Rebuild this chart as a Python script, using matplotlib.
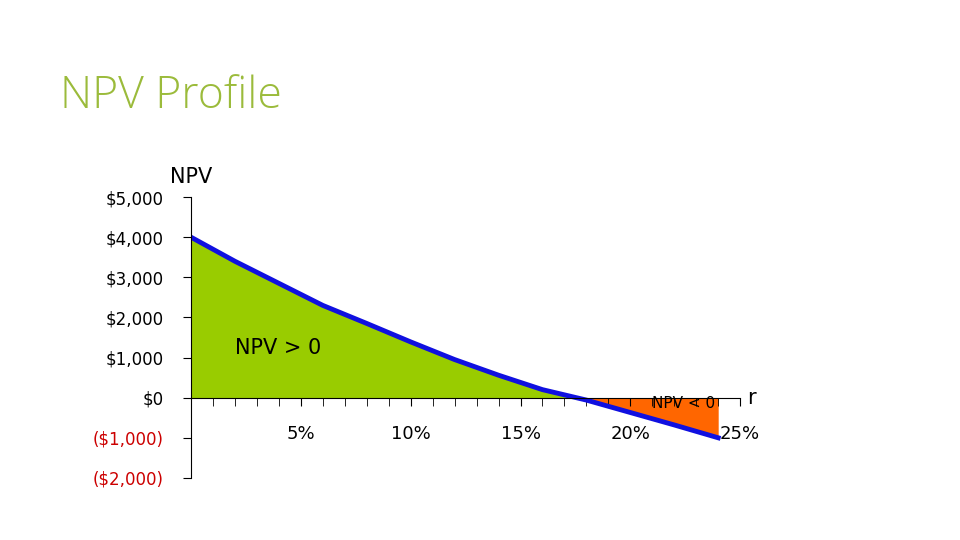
import matplotlib
matplotlib.use("Agg")
import matplotlib.pyplot as plt
import numpy as np
from matplotlib.ticker import FuncFormatter, MultipleLocator

rates = [0, 2, 4, 6, 8, 10, 12, 14, 16, 18, 20, 22, 24]
npv = [4000, 3400, 2850, 2300, 1850, 1390, 950, 560, 200, -60, -370, -680, -1000]
yticks = [-2000, -1000, 0, 1000, 2000, 3000, 4000, 5000]
xticks = [5, 10, 15, 20, 25]

fig = plt.figure(figsize=(9.6, 5.4), dpi=100)
fig.text(0.062, 0.80, "NPV Profile", fontsize=32, color="#9bbb3b", fontfamily="Open Sans", fontweight="light")
ax = fig.add_axes([0.199, 0.115, 0.572, 0.52])
r = np.array(rates, float); v = np.array(npv, float)
ax.fill_between(r, v, 0, where=v >= 0, interpolate=True, color="#99cc00", lw=0)
ax.fill_between(r, v, 0, where=v <= 0, interpolate=True, color="#ff6600", lw=0)
ax.plot(r, v, color="#1010e0", lw=3.5)
ax.set_xlim(0, 25); ax.set_ylim(-2000, 5000)
for s in ["top", "right"]:
    ax.spines[s].set_visible(False)
ax.spines["bottom"].set_position(("data", 0))
ax.set_xticks(xticks)
ax.xaxis.set_minor_locator(MultipleLocator(1))
ax.xaxis.set_major_formatter(FuncFormatter(lambda x, p: f"{int(x)}%"))
ax.tick_params(axis="x", which="both", length=6, direction="out", labelsize=13, pad=14)
ax.set_yticks(yticks)
ax.yaxis.set_major_formatter(FuncFormatter(lambda y, p: f"${int(y):,}" if y >= 0 else f"(${int(-y):,})"))
ax.tick_params(axis="y", length=6, labelsize=12, pad=14)
for lab, val in zip(ax.get_yticklabels(), yticks):
    lab.set_color("#cc0000" if val < 0 else "black")
ax.text(0, 5250, "NPV", fontsize=15, ha="center", va="bottom")
ax.text(25.3, 0, "r", fontsize=15, ha="left", va="center")
ax.text(2.0, 1100, "NPV > 0", fontsize=15)
ax.text(21.0, -250, "NPV < 0", fontsize=11)
fig.savefig("out.png")
